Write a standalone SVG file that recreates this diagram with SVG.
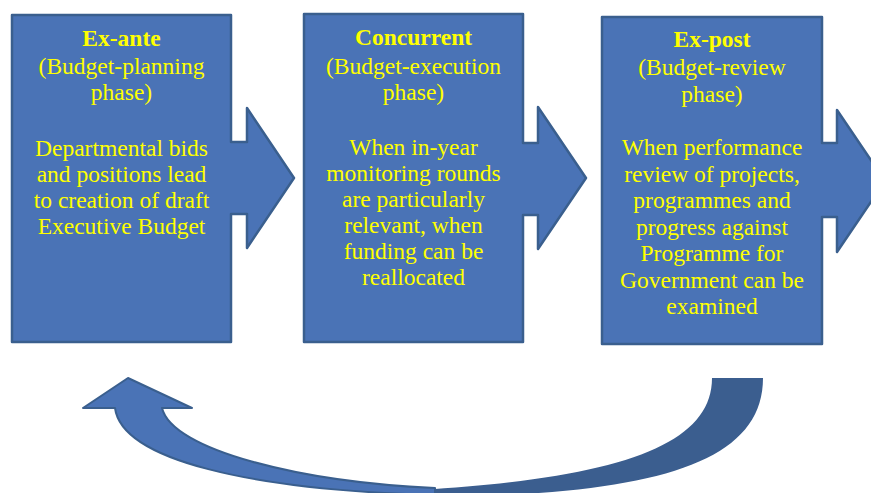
<svg xmlns="http://www.w3.org/2000/svg" width="871" height="493" viewBox="0 0 871 493">
<style>
.box{fill:#4A73B6;stroke:#3A5F8E;stroke-width:2.5;stroke-linejoin:round}
.t{font-size:23.5px;fill:#FFFF00;text-anchor:middle}
.b{font-weight:bold}
.back{fill:#3B5E8F}
.front{fill:#4A73B6;stroke:#3A5F8E;stroke-width:2;stroke-linejoin:round}
</style>
<rect width="871" height="493" fill="#FFFFFF"/>
<g font-family="'Liberation Serif', 'DejaVu Serif', serif">
<g id="node-exante">
<path class="box" d="M12,15 L231,15 L231,142 L247,142 L247,108 L294,178 L247,248 L247,214 L231,214 L231,342 L12,342 Z"/>
<text class="t"><tspan class="b" x="121.5" y="46">Ex-ante</tspan><tspan x="121.5" y="74">(Budget-planning</tspan><tspan x="121.5" y="100">phase)</tspan><tspan x="121.5" y="156">Departmental bids</tspan><tspan x="121.5" y="182">and positions lead</tspan><tspan x="121.5" y="208">to creation of draft</tspan><tspan x="121.5" y="234">Executive Budget</tspan></text>
</g>
<g id="node-concurrent">
<path class="box" d="M304,14 L523,14 L523,143 L538,143 L538,107 L586,178 L538,249 L538,215 L523,215 L523,342 L304,342 Z"/>
<text class="t"><tspan class="b" x="413.5" y="45">Concurrent</tspan><tspan x="413.5" y="74">(Budget-execution</tspan><tspan x="413.5" y="100">phase)</tspan><tspan x="413.5" y="155">When in-year</tspan><tspan x="413.5" y="181">monitoring rounds</tspan><tspan x="413.5" y="207">are particularly</tspan><tspan x="413.5" y="233">relevant, when</tspan><tspan x="413.5" y="259">funding can be</tspan><tspan x="413.5" y="285">reallocated</tspan></text>
</g>
<g id="node-expost">
<path class="box" d="M602,17 L822,17 L822,143 L837,143 L837,110 L885,181 L837,252 L837,217 L822,217 L822,344 L602,344 Z"/>
<text class="t"><tspan class="b" x="712" y="47">Ex-post</tspan><tspan x="712" y="75">(Budget-review</tspan><tspan x="712" y="102">phase)</tspan><tspan x="712" y="155">When performance</tspan><tspan x="712" y="181.5">review of projects,</tspan><tspan x="712" y="208">programmes and</tspan><tspan x="712" y="234.5">progress against</tspan><tspan x="712" y="261">Programme for</tspan><tspan x="712" y="287.5">Government can be</tspan><tspan x="712" y="314">examined</tspan></text>
</g>
</g>
<g id="connectors">
<path class="back" d="M712,378 L763,378 C763,465 650,495 430,497 L420,490 C620,478 712,445 712,378 Z"/>
<path class="front" d="M162,408 L192,408 L128,378 L83,408 L115,408 C122,460 250,490 435,495 L435,488 C300,482 172,450 162,408 Z"/>
</g>
</svg>
